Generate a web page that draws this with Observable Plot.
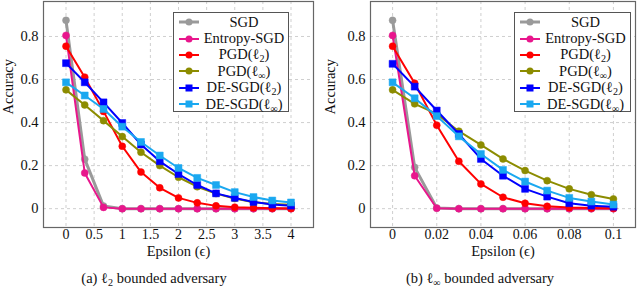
<!DOCTYPE html>
<html>
<head>
<meta charset="utf-8">
<script src="https://cdn.jsdelivr.net/npm/d3@7"></script>
<script src="https://cdn.jsdelivr.net/npm/@observablehq/plot@0.6"></script>
<style>
  html, body { margin: 0; padding: 0; background: #fff; }
  body { width: 640px; height: 304px; overflow: hidden; font-family: "Liberation Serif", "Times New Roman", Times, "DejaVu Serif", serif; }
  #row { display: flex; width: 640px; }
  .panel { position: relative; width: 320px; }
  .caption { text-align: center; font-size: 14.5px; line-height: 16px; margin-top: 8px; color: #111; }
  .legend { position: absolute; top: 12px; height: 100px; border: 1px solid #555; background: #fff; box-sizing: border-box; padding-top: 1px; }
  .legend .item { display: flex; align-items: center; height: 16.4px; font-size: 14.5px; color: #111; }
  .legend .item svg { flex: none; margin-left: 4px; }
  .legend .item span { flex: 1; text-align: center; white-space: nowrap; }
  sub { font-size: 0.7em; vertical-align: -0.25em; line-height: 0; }
  svg text { font-family: "Liberation Serif", "Times New Roman", Times, "DejaVu Serif", serif; }
</style>
</head>
<body>
<div id="row">
  <div class="panel" id="pA"></div>
  <div class="panel" id="pB"></div>
</div>
<script>
// ---- data: (a) l2 bounded adversary ----
const epsA = [0, 0.333, 0.667, 1, 1.333, 1.667, 2, 2.333, 2.667, 3, 3.333, 3.667, 4];
const sgdA      = [0.875, 0.230, 0.012, 0, 0, 0, 0, 0, 0, 0, 0, 0, 0];
const entropyA  = [0.805, 0.166, 0.006, 0, 0, 0, 0, 0, 0, 0, 0, 0, 0];
const pgdL2A    = [0.755, 0.611, 0.452, 0.290, 0.170, 0.097, 0.050, 0.027, 0.013, 0.007, 0.004, 0.002, 0.001];
const pgdLinfA  = [0.552, 0.482, 0.409, 0.335, 0.262, 0.200, 0.146, 0.102, 0.070, 0.047, 0.030, 0.022, 0.018];
const deL2A     = [0.676, 0.587, 0.494, 0.398, 0.298, 0.220, 0.161, 0.110, 0.071, 0.050, 0.031, 0.019, 0.014];
const deLinfA   = [0.587, 0.526, 0.463, 0.381, 0.310, 0.247, 0.189, 0.143, 0.110, 0.077, 0.054, 0.038, 0.029];
const xTicksA = [0, 0.5, 1, 1.5, 2, 2.5, 3, 3.5, 4];

// ---- data: (b) l-inf bounded adversary ----
const epsB = [0, 0.01, 0.02, 0.03, 0.04, 0.05, 0.06, 0.07, 0.08, 0.09, 0.1];
const sgdB      = [0.875, 0.192, 0.003, 0, 0, 0, 0, 0, 0, 0, 0];
const entropyB  = [0.805, 0.153, 0.002, 0, 0, 0, 0, 0, 0, 0, 0];
const pgdL2B    = [0.755, 0.583, 0.388, 0.220, 0.115, 0.053, 0.025, 0.011, 0.005, 0.003, 0.002];
const pgdLinfB  = [0.552, 0.487, 0.440, 0.360, 0.296, 0.231, 0.177, 0.130, 0.092, 0.065, 0.045];
const deL2B     = [0.673, 0.567, 0.456, 0.347, 0.231, 0.153, 0.092, 0.056, 0.025, 0.014, 0.009];
const deLinfB   = [0.587, 0.513, 0.430, 0.336, 0.254, 0.180, 0.126, 0.084, 0.050, 0.033, 0.019];
const xTicksB = [0, 0.02, 0.04, 0.06, 0.08, 0.1];

const yTicks = [0, 0.2, 0.4, 0.6, 0.8];
const seriesNames = ["SGD", "Entropy-SGD", "PGD(ℓ2)", "PGD(ℓ∞)", "DE-SGD(ℓ2)", "DE-SGD(ℓ∞)"];
const seriesLabelsHtml = ["SGD", "Entropy-SGD", "PGD(ℓ<sub>2</sub>)", "PGD(ℓ<sub>∞</sub>)", "DE-SGD(ℓ<sub>2</sub>)", "DE-SGD(ℓ<sub>∞</sub>)"];

const FONT = "'Liberation Serif', 'Times New Roman', Times, 'DejaVu Serif', serif";

// styles
const styles = [
  {color: "#9a9a9a", width: 3, symbol: "circle"},
  {color: "#e8168c", width: 2, symbol: "circle"},
  {color: "#ff0000", width: 2, symbol: "circle"},
  {color: "#8c8c00", width: 2, symbol: "circle"},
  {color: "#0000ff", width: 2, symbol: "square"},
  {color: "#1aa8f0", width: 2, symbol: "square"}
];

function tidy(eps, arrays) {
  const rows = [];
  arrays.forEach((arr, i) => arr.forEach((v, j) => rows.push({s: seriesNames[i], x: eps[j], y: v})));
  return rows;
}

function makePlot(rows, opts) {
  const marks = [
    Plot.gridX(opts.xTicks, {stroke: "#cfcfcf", strokeOpacity: 1, strokeDasharray: "3,3"}),
    Plot.gridY(yTicks, {stroke: "#cfcfcf", strokeOpacity: 1, strokeDasharray: "3,3"}),
    Plot.frame({stroke: "#666", strokeWidth: 1.2}),
    Plot.axisX(opts.xTicks, {tickSize: 0, tickPadding: 2, tickFormat: d => String(d), label: null, fontSize: 14, fontFamily: FONT}),
    Plot.axisY(yTicks, {tickSize: 0, tickPadding: opts.yPad, tickFormat: d => String(d), label: null, fontSize: 14.5, fontFamily: FONT}),
    Plot.text(["Epsilon (ϵ)"], {frameAnchor: "bottom", dy: 28, fontSize: 14.5, fill: "#111", fontFamily: FONT}),
    Plot.text(["Accuracy"], {frameAnchor: "left", dx: -opts.yLabelDx, rotate: -90, fontSize: 14.5, fill: "#111", fontFamily: FONT})
  ];
  seriesNames.forEach((name, i) => {
    const st = styles[i];
    const data = rows.filter(d => d.s === name);
    marks.push(Plot.line(data, {x: "x", y: "y", stroke: st.color, strokeWidth: st.width}));
    marks.push(Plot.dot(data, {x: "x", y: "y", fill: st.color, stroke: st.color, strokeWidth: 0.5,
      symbol: st.symbol, r: st.symbol === "square" ? 3.9 : 3.5}));
  });
  return Plot.plot({
    width: 320, height: 262,
    marginLeft: opts.marginLeft, marginRight: opts.marginRight, marginTop: 1, marginBottom: 35,
    style: {fontFamily: FONT, fontSize: "14.5px", color: "#111", background: "#fff"},
    x: {domain: opts.xDomain},
    y: {domain: [-0.0875, 0.9625]},
    marks
  });
}

function legendHtml(left, width) {
  let h = `<div class="legend" style="left:${left}px;width:${width}px">`;
  seriesNames.forEach((n, i) => {
    const st = styles[i];
    const m = st.symbol === "square"
      ? `<rect x="7.5" y="4.5" width="7" height="7" fill="${st.color}"/>`
      : `<circle cx="11" cy="8" r="3.5" fill="${st.color}"/>`;
    h += `<div class="item"><svg width="22" height="16"><line x1="1" y1="8" x2="21" y2="8" stroke="${st.color}" stroke-width="${st.width}"/>${m}</svg><span>${seriesLabelsHtml[i]}</span></div>`;
  });
  return h + `</div>`;
}

const rowsA = tidy(epsA, [sgdA, entropyA, pgdL2A, pgdLinfA, deL2A, deLinfA]);
const rowsB = tidy(epsB, [sgdB, entropyB, pgdL2B, pgdLinfB, deL2B, deLinfB]);

const pA = document.getElementById("pA");
pA.appendChild(makePlot(rowsA, {xTicks: xTicksA, xDomain: [-0.4, 4.4], marginLeft: 43, marginRight: 7, yPad: 5, yLabelDx: 35}));
pA.insertAdjacentHTML("beforeend", legendHtml(173, 116));
pA.insertAdjacentHTML("beforeend", `<div class="caption" style="padding-right:12px">(a) ℓ<sub>2</sub> bounded adversary</div>`);

const pB = document.getElementById("pB");
pB.appendChild(makePlot(rowsB, {xTicks: xTicksB, xDomain: [-0.01, 0.11], marginLeft: 50, marginRight: 5, yPad: 5, yLabelDx: 40}));
pB.insertAdjacentHTML("beforeend", legendHtml(194, 117));
pB.insertAdjacentHTML("beforeend", `<div class="caption">(b) ℓ<sub>∞</sub> bounded adversary</div>`);
</script>
</body>
</html>
